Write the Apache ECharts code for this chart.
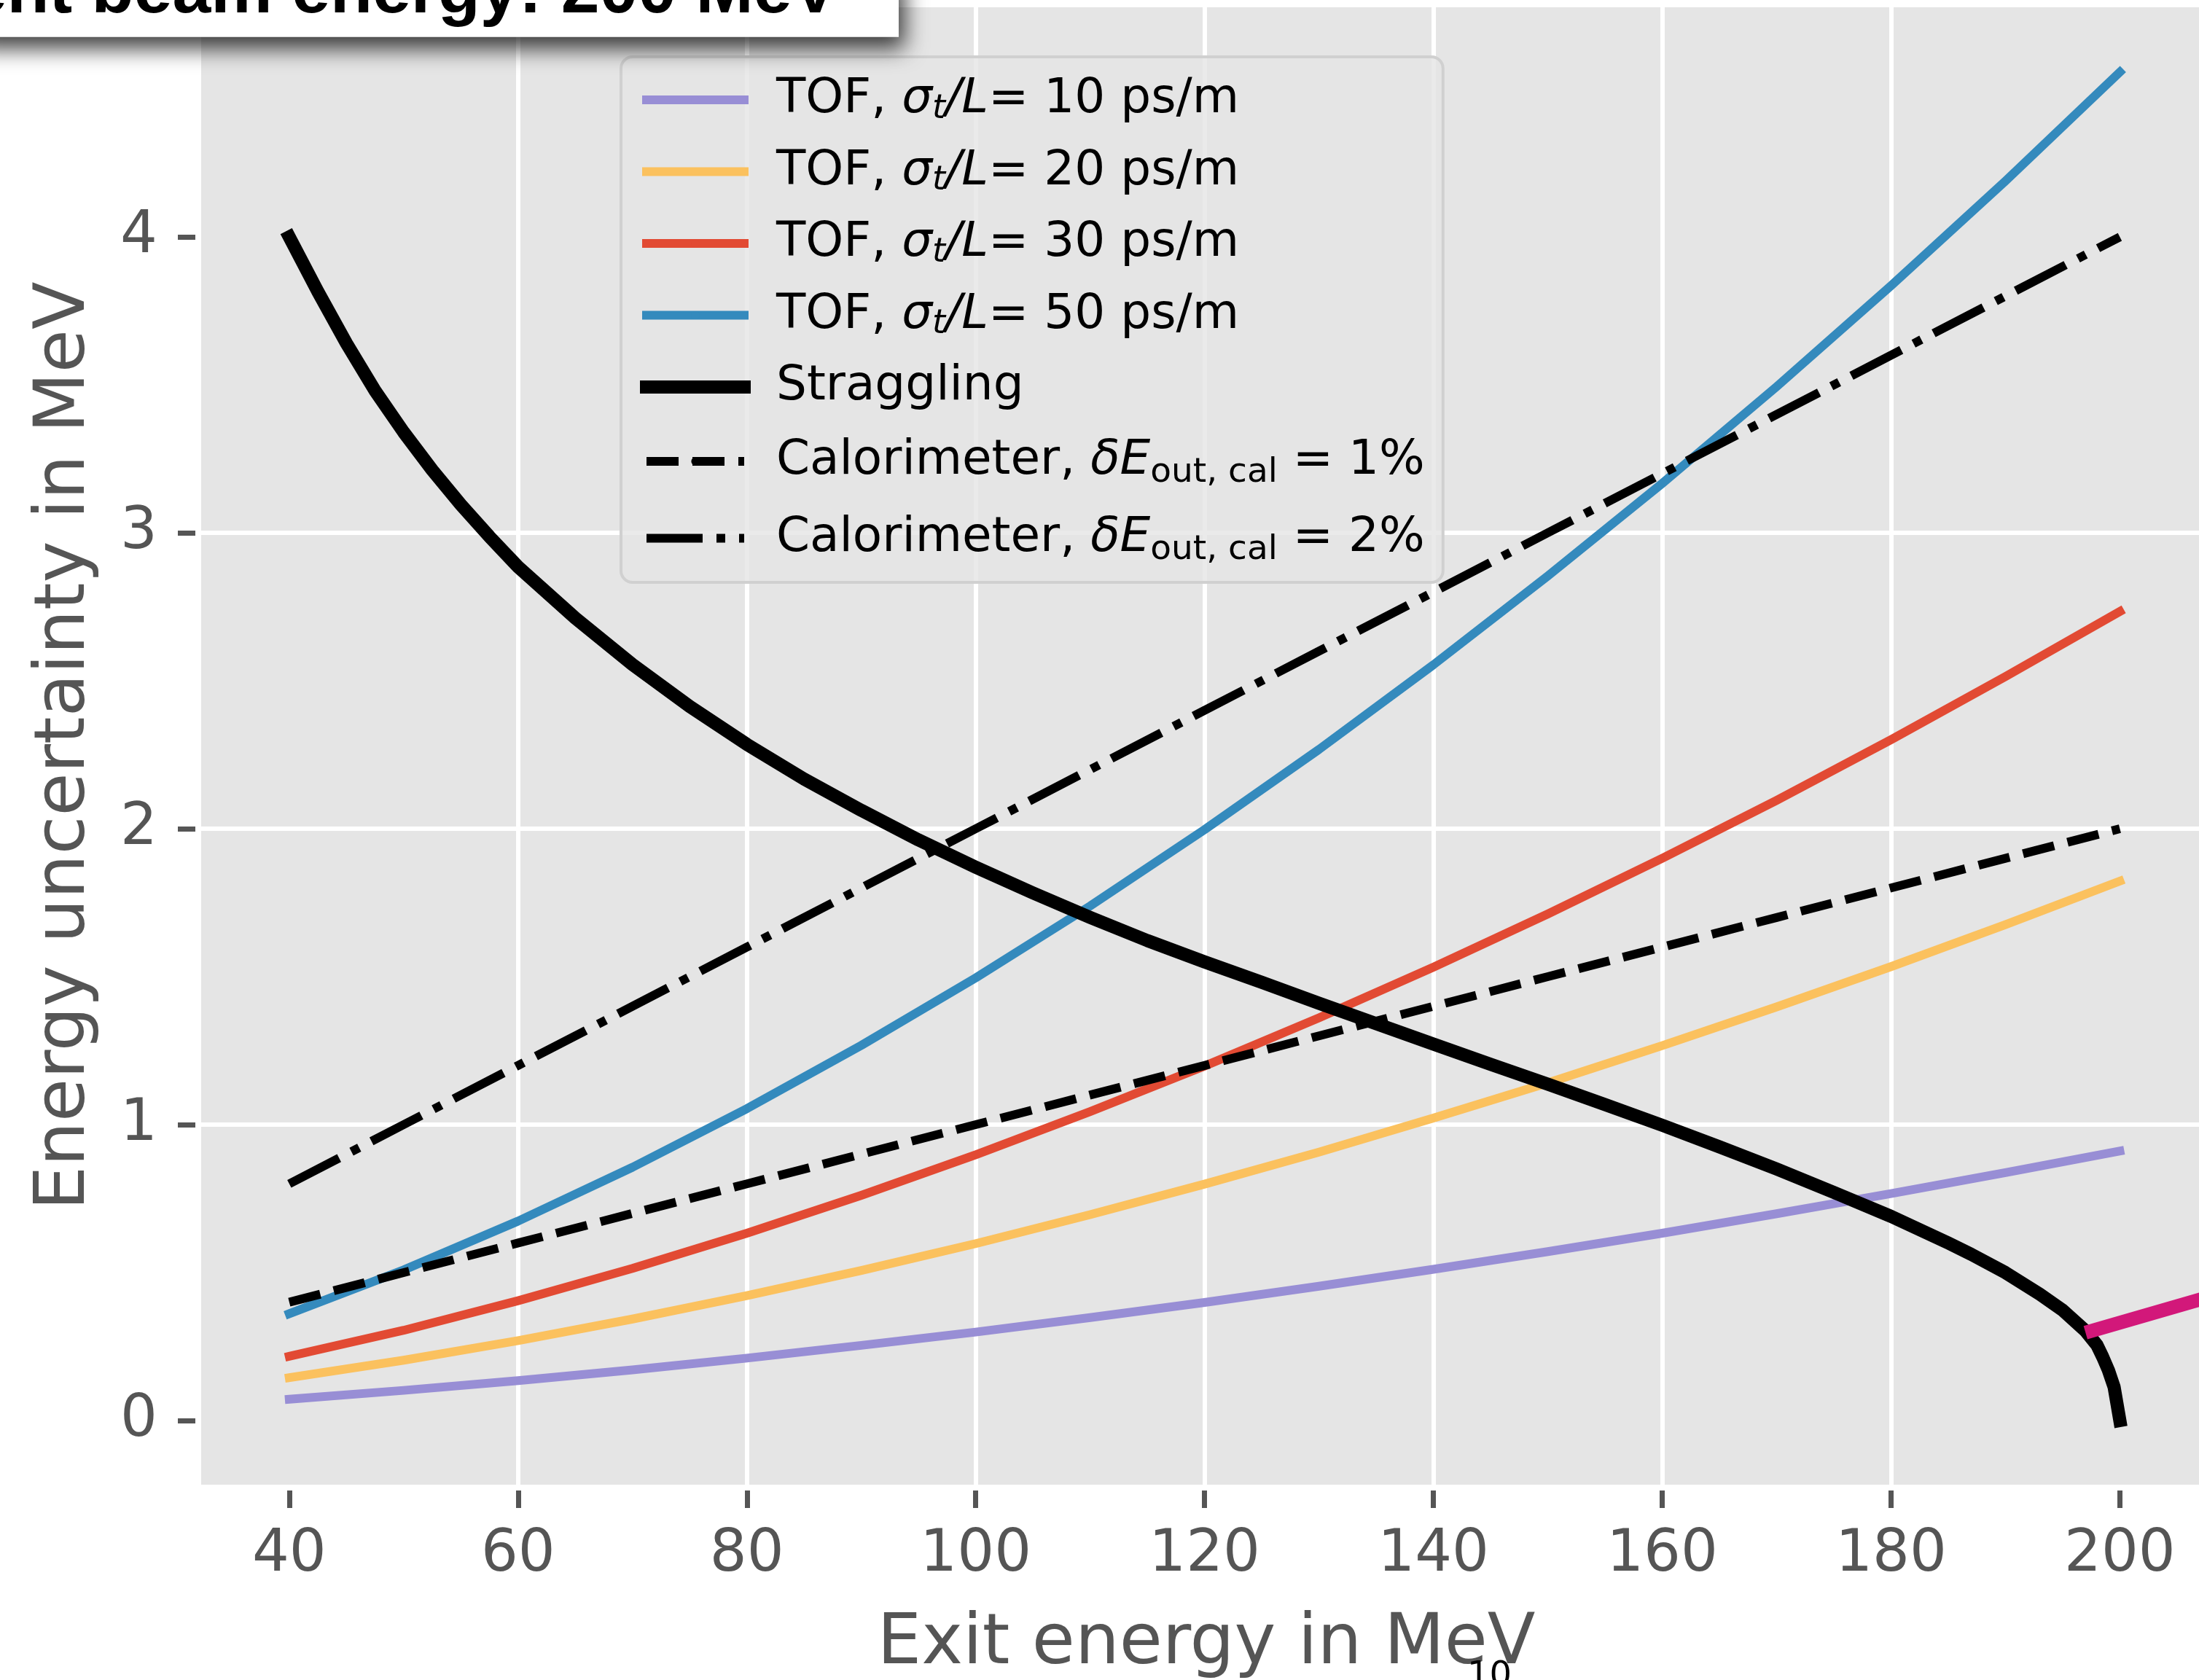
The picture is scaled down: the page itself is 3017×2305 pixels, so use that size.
<!DOCTYPE html>
<html><head><meta charset="utf-8">
<script src="https://cdn.jsdelivr.net/npm/echarts@6/dist/echarts.min.js"></script>
<style>html,body{margin:0;padding:0;background:#fff}#c{width:3017px;height:2305px}</style>
</head><body><div id="c"></div>
<script>
// ---- data ----
const energies = [40,50,60,70,80,90,100,110,120,130,140,150,160,170,180,190,200];
const tof10 = [0.072,0.102,0.135,0.171,0.211,0.254,0.299,0.348,0.399,0.454,0.511,0.571,0.633,0.699,0.767,0.838,0.911];
const tof20 = [0.145,0.204,0.270,0.343,0.422,0.507,0.598,0.696,0.799,0.907,1.022,1.141,1.267,1.398,1.534,1.676,1.823];
const tof30 = [0.217,0.305,0.405,0.514,0.633,0.761,0.898,1.044,1.198,1.361,1.532,1.712,1.900,2.096,2.301,2.514,2.734];
const tof50 = [0.361,0.509,0.674,0.856,1.054,1.268,1.496,1.739,1.997,2.268,2.554,2.854,3.167,3.494,3.835,4.189,4.557];
const cal1 = [0.40,0.50,0.60,0.70,0.80,0.90,1.00,1.10,1.20,1.30,1.40,1.50,1.60,1.70,1.80,1.90,2.00];
const cal2 = [0.80,1.00,1.20,1.40,1.60,1.80,2.00,2.20,2.40,2.60,2.80,3.00,3.20,3.40,3.60,3.80,4.00];
const stragE = [40,42.5,45,47.5,50,52.5,55,57.5,60,65,70,75,80,85,90,95,100,105,110,115,120,125,130,135,140,145,150,155,160,165,170,175,180,185,187,190,193,195,197,198,198.5,199,199.5,200];
const stragS = [4.000,3.815,3.640,3.480,3.340,3.212,3.095,2.987,2.885,2.712,2.555,2.413,2.285,2.168,2.062,1.962,1.870,1.783,1.700,1.622,1.550,1.481,1.410,1.341,1.272,1.204,1.137,1.068,0.998,0.925,0.850,0.771,0.690,0.600,0.562,0.500,0.427,0.373,0.303,0.255,0.215,0.170,0.113,0.000];
const pinkE = [197, 208];
const pinkV = [0.297, 0.420];
const xTicks = [40,60,80,100,120,140,160,180,200];
const yTicks = [0,1,2,3,4];
const seriesNames = ['TOF10','TOF20','TOF30','TOF50','Straggling','Cal1','Cal2'];
const legendLabels = {
  TOF10: '{n|TOF, }{i|σ}{s|t}{i|/L}{n|= 10 ps/m}',
  TOF20: '{n|TOF, }{i|σ}{s|t}{i|/L}{n|= 20 ps/m}',
  TOF30: '{n|TOF, }{i|σ}{s|t}{i|/L}{n|= 30 ps/m}',
  TOF50: '{n|TOF, }{i|σ}{s|t}{i|/L}{n|= 50 ps/m}',
  Straggling: '{n|Straggling}',
  Cal1: '{cn|Calorimeter, }{ci|δE}{cs|out, cal}{cn| = 1%}',
  Cal2: '{cn|Calorimeter, }{ci|δE}{cs|out, cal}{cn| = 2%}'
};
const titleText = 'Incident beam energy: 200 MeV';

// ---- chart ----
const FONT = 'DejaVu Sans';
const GREY = '#555555';
const pairs = (xs, ys) => xs.map((x, i) => [x, ys[i]]);
const chart = echarts.init(document.getElementById('c'), null, {renderer: 'canvas', width: 3017, height: 2305});

function lineSeries(name, xs, ys, color, width, type, cap) {
  return {
    name: name, type: 'line', data: pairs(xs, ys), symbol: 'none', showSymbol: false,
    smooth: false, animation: false, emphasis: {disabled: true}, silent: true,
    itemStyle: {color: color},
    lineStyle: {color: color, width: width, type: type, cap: cap, join: 'round'}
  };
}
const DASH = [44, 19];
const DASHDOT = [77, 19, 12, 19];

const option = {
  backgroundColor: '#ffffff',
  animation: false,
  grid: {left: 276, top: 10, bottom: 268, right: -17, show: true, backgroundColor: '#E5E5E5', borderWidth: 0,
         containLabel: false, outerBoundsMode: 'none'},
  xAxis: {
    type: 'value', min: 32.3, max: 208, splitNumber: 9, offset: 8,
    axisLine: {show: false, onZero: false},
    axisTick: {show: true, length: 24, lineStyle: {color: GREY, width: 7}, customValues: xTicks},
    axisLabel: {customValues: xTicks, margin: 49, fontSize: 80, color: GREY, fontFamily: FONT},
    splitLine: {show: true, showMinLine: false, showMaxLine: false, lineStyle: {color: '#ffffff', width: 6}},
    name: 'Exit energy in MeV', nameLocation: 'middle', nameGap: 164,
    nameTextStyle: {fontSize: 96, color: GREY, fontFamily: FONT}
  },
  yAxis: {
    type: 'value', min: -0.2167, max: 4.776, splitNumber: 5, offset: 8,
    axisLine: {show: false, onZero: false},
    axisTick: {show: true, length: 24, lineStyle: {color: GREY, width: 7}, customValues: yTicks},
    axisLabel: {customValues: yTicks, margin: 52, fontSize: 80, color: GREY, fontFamily: FONT},
    splitLine: {show: true, showMinLine: false, showMaxLine: false, lineStyle: {color: '#ffffff', width: 6}},
    name: 'Energy uncertainty in MeV', nameLocation: 'middle', nameGap: 130,
    nameTextStyle: {fontSize: 96, color: GREY, fontFamily: FONT}
  },
  legend: {
    data: seriesNames, orient: 'vertical', left: 852, top: 78, align: 'left',
    itemWidth: 134, itemHeight: 14, itemGap: 18.5,
    padding: [19, 25, 17, 26],
    backgroundColor: 'rgba(229,229,229,0.8)', borderColor: '#d0d0d0', borderWidth: 4, borderRadius: 16,
    selectedMode: false,
    lineStyle: {width: 'inherit'},
    formatter: function (name) { return legendLabels[name]; },
    textStyle: {
      color: '#000', fontSize: 66, fontFamily: FONT, lineHeight: 80, padding: [0, 0, 0, 39],
      rich: {
        n: {fontSize: 66, fontFamily: FONT, color: '#000', lineHeight: 80},
        i: {fontSize: 66, fontFamily: FONT, color: '#000', lineHeight: 80, fontStyle: 'italic'},
        s: {fontSize: 46, fontFamily: FONT, color: '#000', lineHeight: 46, fontStyle: 'italic', verticalAlign: 'bottom', padding: [0, 0, 4, 0]},
        cn: {fontSize: 66, fontFamily: FONT, color: '#000', lineHeight: 87},
        ci: {fontSize: 66, fontFamily: FONT, color: '#000', lineHeight: 87, fontStyle: 'italic'},
        cs: {fontSize: 47, fontFamily: FONT, color: '#000', lineHeight: 47, verticalAlign: 'bottom', padding: [0, 0, 4, 0]}
      }
    }
  },
  series: [
    lineSeries('TOF10', energies, tof10, '#988ED5', 12, 'solid', 'square'),
    lineSeries('TOF20', energies, tof20, '#FBC15E', 12, 'solid', 'square'),
    lineSeries('TOF30', energies, tof30, '#E24A33', 12, 'solid', 'square'),
    lineSeries('TOF50', energies, tof50, '#348ABD', 12, 'solid', 'square'),
    lineSeries('Straggling', stragE, stragS, '#000000', 18, 'solid', 'square'),
    lineSeries('Cal1', energies, cal1, '#000000', 12, DASH, 'butt'),
    lineSeries('Cal2', energies, cal2, '#000000', 12, DASHDOT, 'butt'),
    lineSeries('pink', pinkE, pinkV, '#D2187A', 19, 'solid', 'butt')
  ],
  graphic: [
    {type: 'rect', z: 100, shape: {x: -40, y: -40, width: 1273, height: 90.7},
     style: {fill: '#ffffff', shadowBlur: 30, shadowOffsetX: 8, shadowOffsetY: 16, shadowColor: 'rgba(0,0,0,0.75)'}},
    {type: 'text', z: 101, x: -265, y: -9.5,
     style: {text: titleText, font: 'bold 95px "Liberation Sans"', fill: '#000', verticalAlign: 'middle', textVerticalAlign: 'middle'}},
    {type: 'text', z: 101, x: 2013, y: 2277,
     style: {text: '10', font: '48px "DejaVu Sans"', fill: '#000', verticalAlign: 'top', textVerticalAlign: 'top'}}
  ]
};
chart.setOption(option);
</script>
</body></html>
